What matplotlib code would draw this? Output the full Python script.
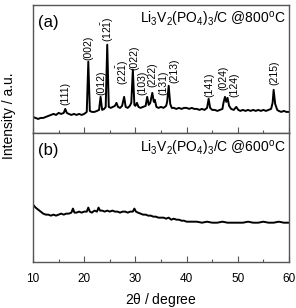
import matplotlib
matplotlib.use("Agg")
import matplotlib.pyplot as plt
from matplotlib.ticker import MultipleLocator

plt.rcParams['font.family'] = ['Liberation Sans', 'DejaVu Sans']
plt.rcParams['mathtext.fontset'] = 'custom'
plt.rcParams['mathtext.rm'] = 'Liberation Sans'
plt.rcParams['mathtext.it'] = 'Liberation Sans:italic'
plt.rcParams['mathtext.bf'] = 'Liberation Sans:bold'

# ---- data: panel (a) 800 C pattern (2theta, intensity a.u.) ----
two_theta_a = [10.0, 10.5, 11.0, 11.5, 12.0, 12.5, 13.0, 13.5, 14.0, 14.5, 15.0, 15.5,
               16.0, 16.3, 16.6, 17.0, 17.5, 18.0, 18.5, 19.0, 19.5, 20.0, 20.5,
               20.8, 21.1, 21.5, 22.0, 22.5, 22.9, 23.2, 23.5, 23.9, 24.2, 24.5,
               24.8, 25.2, 25.6, 26.0, 26.3, 26.6, 27.0, 27.4, 27.8, 28.1, 28.5,
               28.9, 29.2, 29.5, 29.8, 30.0, 30.3, 30.6, 31.0, 31.5, 32.0, 32.3,
               32.6, 32.9, 33.3, 33.6, 33.8, 34.1, 34.5, 35.0, 35.5, 36.0, 36.2,
               36.5, 36.8, 37.1, 37.5, 38.0, 38.5, 39.0, 39.5, 40.0, 40.5, 41.0,
               41.5, 42.0, 42.5, 43.0, 43.5, 44.0, 44.3, 44.6, 45.0, 45.5, 46.0,
               46.5, 47.0, 47.2, 47.5, 47.75, 48.0, 48.3, 48.7, 49.2, 49.7, 50.1,
               50.5, 51.0, 51.5, 52.0, 52.5, 53.0, 53.5, 54.0, 54.5, 55.0, 55.5,
               56.0, 56.5, 56.8, 57.0, 57.3, 57.7, 58.0, 58.5, 59.0, 59.5, 60.0]
intensity_a = [16, 15, 14, 15, 15, 16, 17, 18, 19, 18, 20, 19,
               20, 24, 20, 19, 18, 19, 18, 19, 18, 19, 21,
               71, 22, 21, 21, 22, 23, 36, 23, 24, 26, 88,
               26, 25, 26, 27, 30, 26, 25, 27, 36, 26, 25,
               27, 30, 63, 28, 27, 30, 26, 25, 26, 27, 36,
               28, 30, 40, 31, 33, 26, 25, 26, 25, 27, 31,
               47, 29, 25, 25, 24, 25, 24, 25, 25, 24, 25,
               24, 24, 23, 24, 23, 25, 34, 25, 23, 23, 22,
               23, 24, 30, 36, 31, 35, 27, 24, 23, 26, 23,
               22, 23, 22, 23, 22, 23, 22, 23, 22, 23, 22,
               23, 24, 30, 43, 29, 23, 22, 21, 22, 21, 21]

# ---- data: panel (b) 600 C pattern ----
two_theta_b = [10.0, 10.5, 11.0, 11.5, 12.0, 12.5, 13.0, 13.5, 14.0, 14.5, 15.0, 15.5,
               16.0, 16.5, 17.0, 17.5, 17.8, 18.1, 18.5, 19.0, 19.5, 20.0, 20.5,
               20.8, 21.1, 21.5, 22.0, 22.5, 22.8, 23.1, 23.5, 24.0, 24.5, 25.0,
               25.5, 26.0, 26.5, 27.0, 27.5, 28.0, 28.5, 29.0, 29.5, 29.8, 30.1,
               30.5, 31.0, 31.5, 32.0, 32.5, 33.0, 33.5, 34.0, 34.5, 35.0, 35.5,
               36.0, 36.5, 37.0, 37.5, 38.0, 38.5, 39.0, 39.5, 40.0, 41.0, 42.0,
               43.0, 44.0, 45.0, 46.0, 47.0, 48.0, 49.0, 50.0, 51.0, 52.0, 53.0,
               54.0, 55.0, 56.0, 57.0, 58.0, 59.0, 60.0]
intensity_b = [57, 54, 52, 50, 48, 47, 47, 46, 47, 46, 47, 48,
               47, 48, 48, 49, 53, 49, 49, 50, 49, 50, 50,
               54, 50, 49, 51, 50, 54, 51, 51, 50, 51, 50,
               51, 50, 50, 49, 50, 50, 49, 50, 50, 53, 50,
               49, 48, 47, 47, 46, 46, 45, 45, 44, 44, 44,
               43, 44, 42, 43, 42, 42, 41, 41, 40, 40, 40,
               39, 40, 39, 39, 40, 39, 39, 39, 39, 40, 39,
               39, 40, 39, 39, 40, 39, 39]

# ---- peak labels (hkl) ----
hkl_labels = ['(111)', '(002)', '(012)', r'$\mathregular{(12\bar{1})}$',
              r'$\mathregular{(22\bar{1})}$', '(022)', '(103)', '(222)', '(131)',
              '(213)', '(141)', '(024)', '(124)', '(215)']
hkl_pos = [16.4, 20.9, 23.3, 24.6, 27.6, 29.8, 31.4, 33.3, 35.5, 37.7, 44.5, 47.2, 49.4, 57.2]
hkl_base = [28, 73, 38, 91, 48, 63, 38, 46, 38, 50, 36, 43, 36, 48]

panel_tags = ['(a)', '(b)']
panel_titles = [r'Li$_3$V$_2$(PO$_4$)$_3$/C @800$^{\mathrm{o}}$C',
                r'Li$_3$V$_2$(PO$_4$)$_3$/C @600$^{\mathrm{o}}$C']

fig = plt.figure(figsize=(2.96, 3.08), dpi=100)
left, right = 33 / 296, 289 / 296
top, mid, bottom = 1 - 4.5 / 308, 1 - 133 / 308, 1 - 262 / 308
ax_a = fig.add_axes([left, mid, right - left, top - mid])
ax_b = fig.add_axes([left, bottom, right - left, mid - bottom])

spine_col = '#555555'
for ax, x, y in ((ax_a, two_theta_a, intensity_a), (ax_b, two_theta_b, intensity_b)):
    ax.plot(x, y, color='black', lw=1.4)
    ax.set_xlim(10, 60)
    ax.set_ylim(0, 128)
    ax.set_yticks([])
    ax.xaxis.set_major_locator(MultipleLocator(10))
    ax.xaxis.set_minor_locator(MultipleLocator(5))
    ax.tick_params(axis='x', which='major', direction='in', length=4, width=0.8,
                   color=spine_col, labelsize=8.5, pad=8)
    ax.tick_params(axis='x', which='minor', direction='in', length=2, width=0.8,
                   color=spine_col)
    for s in ax.spines.values():
        s.set_color(spine_col)
        s.set_linewidth(1.0)

ax_a.tick_params(axis='x', labelbottom=False)

for lab, p, b in zip(hkl_labels, hkl_pos, hkl_base):
    ax_a.text(p, b, lab, rotation=90, ha='center', va='bottom', fontsize=7.5)

for ax, tag, title in zip((ax_a, ax_b), panel_tags, panel_titles):
    ax.text(0.02, 0.862, tag, transform=ax.transAxes, ha='left', va='center', fontsize=12)
    ax.text(0.418, 0.88, title, transform=ax.transAxes, ha='left', va='center', fontsize=10)

fig.text(161 / 296, 1 - 300 / 308, r'2$\mathregular{\theta}$ / degree', ha='center',
         va='center', fontsize=10)
fig.text(9 / 296, 1 - 116 / 308, 'Intensity / a.u.', rotation=90, ha='center', va='center',
         fontsize=10)

fig.savefig('out.png', dpi=100)
